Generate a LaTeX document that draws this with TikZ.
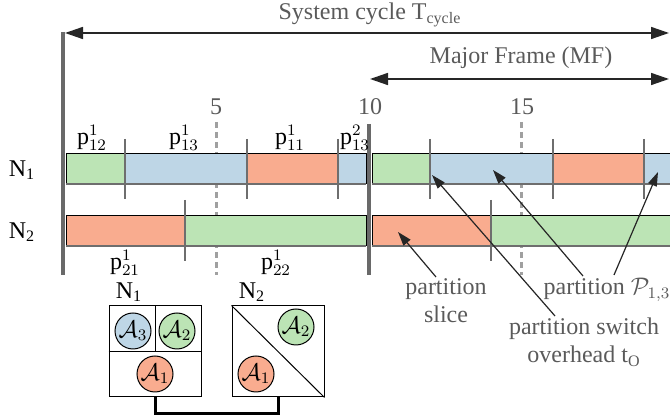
\documentclass[tikz,border=0pt]{standalone}
\usepackage{fontspec}
\setmainfont{Liberation Serif}
\usepackage{amsmath}
\usetikzlibrary{arrows.meta}

\definecolor{pgreen}{RGB}{188,228,181}
\definecolor{pblue}{RGB}{190,214,230}
\definecolor{porange}{RGB}{249,172,143}
\definecolor{notegray}{RGB}{90,90,90}
\definecolor{framegray}{RGB}{105,105,105}
\definecolor{dashgray}{RGB}{160,160,160}
\definecolor{markgray}{RGB}{110,110,110}

\begin{document}
\begin{tikzpicture}[x=0.5pt, y=-0.5pt, font=\large]
        % Define styles
        \tikzset{
            slot/.style={draw=black, line width=0.5pt},
            bottomedge/.style={draw=markgray, line width=1pt},
            slotmark/.style={draw=markgray, line width=0.6pt},
            frameline/.style={draw=framegray, line width=2pt},
            timeline/.style={draw=dashgray, line width=1.5pt, dash pattern=on 3pt off 2pt},
            cyclearrow/.style={{Triangle[length=9pt,width=6pt]}-{Triangle[length=9pt,width=6pt]}, line width=0.75pt, draw=black!85},
            arrow/.style={-{Triangle[length=7pt,width=4.5pt]}, line width=0.6pt, draw=black!85},
            note/.style={text=notegray, align=center, inner sep=0pt},
            app/.style={circle, draw, line width=0.5pt, minimum size=18pt, inner sep=0pt},
            nodebox/.style={draw, line width=0.5pt, minimum width=46pt, minimum height=45.5pt, inner sep=0pt},
            link/.style={line width=1.5pt}
        }
        \useasboundingbox (0,0) rectangle (670,416);
        \clip (0,0) rectangle (670,416);

        % Cycle and major frame
        \node[note] (cycle_lbl) at (370,15) {System cycle T\textsubscript{cycle}};
        \coordinate (cycle_start) at (65,33);
        \coordinate (cycle_end) at (669,33);
        \draw[cyclearrow] (cycle_start) -- (cycle_end);
        \node[note] (mf_lbl) at (521,58) {Major Frame (MF)};
        \coordinate (mf_start) at (370,79);
        \coordinate (mf_end) at (669,79);
        \draw[cyclearrow] (mf_start) -- (mf_end);

        % Time marks
        \node[note] (t_5) at (216,107) {5};
        \node[note] (t_10) at (370,107) {10};
        \node[note] (t_15) at (522,107) {15};
        \draw[timeline] (216,122) -- (216,275);
        \draw[timeline] (521,122) -- (521,275);
        \draw[frameline] (63,32) -- (63,275);
        \draw[frameline] (369,124) -- (369,275);

        % N1 schedule
        \node (n1_lbl) at (22,170) {N\textsubscript{1}};
        \filldraw[slot, fill=pgreen] (66,154) rectangle (125,184);
        \filldraw[slot, fill=pblue] (125,154) rectangle (247,184);
        \filldraw[slot, fill=porange] (247,154) rectangle (338,184);
        \filldraw[slot, fill=pblue] (338,154) rectangle (366,184);
        \filldraw[slot, fill=pgreen] (372,154) rectangle (430,184);
        \filldraw[slot, fill=pblue] (430,154) rectangle (553,184);
        \filldraw[slot, fill=porange] (553,154) rectangle (644,184);
        \filldraw[slot, fill=pblue] (644,154) rectangle (680,184);
        \draw[bottomedge] (66,184) -- (366,184);
        \draw[bottomedge] (372,184) -- (680,184);
        \draw[slotmark] (125,139) -- (125,199);
        \draw[slotmark] (247,139) -- (247,199);
        \draw[slotmark] (338,139) -- (338,199);
        \draw[slotmark] (430,139) -- (430,199);
        \draw[slotmark] (553,139) -- (553,199);
        \draw[slotmark] (644,139) -- (644,199);
        \node (p12) at (92,138) {$\mathrm{p}^{1}_{12}$};
        \node (p13) at (184,138) {$\mathrm{p}^{1}_{13}$};
        \node (p11) at (290,138) {$\mathrm{p}^{1}_{11}$};
        \node (p13b) at (355,138) {$\mathrm{p}^{2}_{13}$};

        % N2 schedule
        \node (n2_lbl) at (22,232) {N\textsubscript{2}};
        \filldraw[slot, fill=porange] (66,216) rectangle (185,246);
        \filldraw[slot, fill=pgreen] (185,216) rectangle (366,246);
        \filldraw[slot, fill=porange] (372,216) rectangle (491,246);
        \filldraw[slot, fill=pgreen] (491,216) rectangle (680,246);
        \draw[bottomedge] (66,246) -- (366,246);
        \draw[bottomedge] (372,246) -- (680,246);
        \draw[slotmark] (185,200) -- (185,261);
        \draw[slotmark] (491,200) -- (491,261);
        \node (p21) at (125,263) {$\mathrm{p}^{1}_{21}$};
        \node (p22) at (276,263) {$\mathrm{p}^{1}_{22}$};

        % Annotations
        \node[note] (slice_lbl) at (446,301) {partition\\slice};
        \node[note] (switch_lbl) at (584,342) {partition switch\\overhead t\textsubscript{O}};
        \node[note] (part_lbl) at (607,290) {partition $\mathcal{P}_{1,3}$};
        \coordinate (slice_from) at (436,277);
        \coordinate (slice_to) at (398,232);
        \coordinate (switch_from) at (555,316);
        \coordinate (switch_to) at (432,175);
        \coordinate (part_from_a) at (583,276);
        \coordinate (part_to_a) at (493,170);
        \coordinate (part_from_b) at (614,275);
        \coordinate (part_to_b) at (658,172);
        \draw[arrow] (slice_from) -- (slice_to);
        \draw[arrow] (switch_from) -- (switch_to);
        \draw[arrow] (part_from_a) -- (part_to_a);
        \draw[arrow] (part_from_b) -- (part_to_b);

        % Nodes and applications
        \node (n1box_lbl) at (129,292) {N\textsubscript{1}};
        \node[nodebox] (n1box) at (155,351.5) {};
        \draw[line width=0.5pt] (n1box.west) -- (n1box.east);
        \draw[line width=0.5pt] (n1box.north) -- (n1box.center);
        \node[app, fill=pblue] (a3) at (133,331) {$\mathcal{A}_3$};
        \node[app, fill=pgreen] (a2) at (177,331) {$\mathcal{A}_2$};
        \node[app, fill=porange] (a1) at (155,374) {$\mathcal{A}_1$};

        \node (n2box_lbl) at (252,292) {N\textsubscript{2}};
        \node[nodebox] (n2box) at (278,351.5) {};
        \draw[line width=0.5pt] (n2box.north west) -- (n2box.south east);
        \node[app, fill=pgreen] (b2) at (296,327) {$\mathcal{A}_2$};
        \node[app, fill=porange] (b1) at (256,374) {$\mathcal{A}_1$};

        \draw[link] (n1box.south) -- ++(0,16) -| (n2box.south);
    \end{tikzpicture}
\end{document}
